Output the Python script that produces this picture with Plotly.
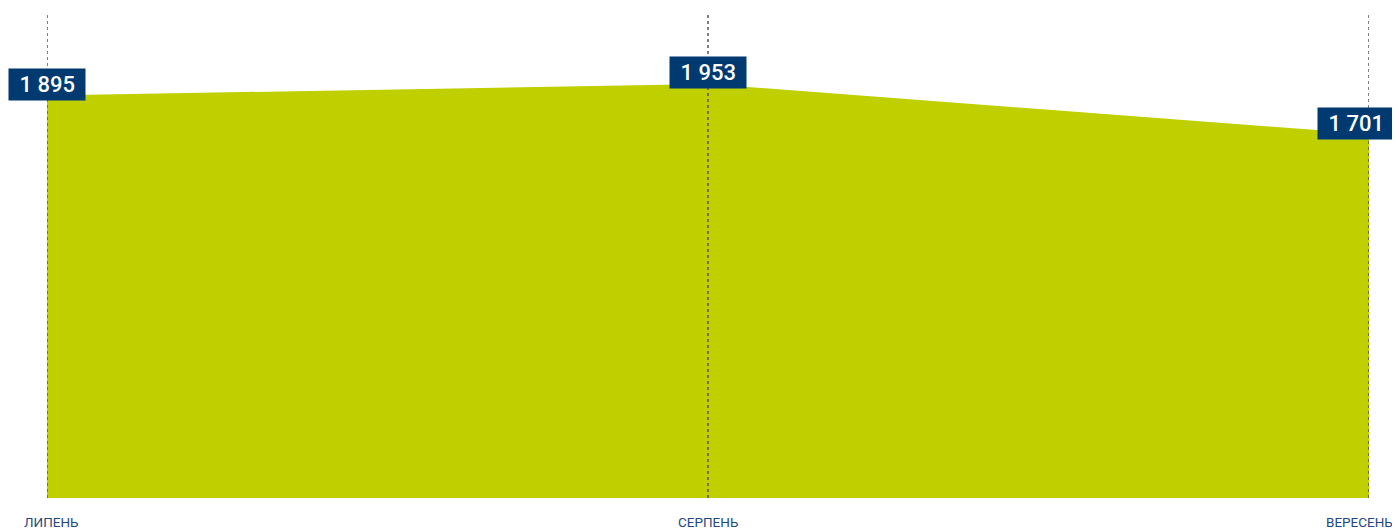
import plotly.graph_objects as go

# Data
months = ["ЛИПЕНЬ", "СЕРПЕНЬ", "ВЕРЕСЕНЬ"]
values = [1895, 1953, 1701]

Y_MIN = -130
Y_MAX = 2300
FILL = "#bfcf00"
NAVY = "#003a70"
LABEL_BLUE = "#1f4a80"


def fmt(v):
    # thousands separated by a space, e.g. "1 895"
    return f"{v:,}".replace(",", " ")


fig = go.Figure()

# baseline at the bottom of the axis so the area fills down to the frame
fig.add_trace(go.Scatter(
    x=months, y=[Y_MIN] * len(months),
    mode="lines", line=dict(width=0),
    hoverinfo="skip", showlegend=False,
))
fig.add_trace(go.Scatter(
    x=months, y=values,
    mode="lines", line=dict(width=0, color=FILL),
    fill="tonexty", fillcolor=FILL,
    hovertemplate="%{x}: %{y}<extra></extra>",
    showlegend=False,
))

# dotted vertical guides drawn over the fill
for m in months:
    fig.add_shape(
        type="line", xref="x", yref="paper",
        x0=m, x1=m, y0=0, y1=1,
        line=dict(color="#555555", width=1.5, dash="dot"),
        layer="above",
    )

# value labels (last one pulled in so it is not clipped by the page edge)
value_shifts = [0, 0, -13]
for m, v, dx in zip(months, values, value_shifts):
    fig.add_annotation(
        x=m, y=v, text=f"\u2004{fmt(v)}\u2004",
        showarrow=False, yshift=11, xshift=dx,
        bgcolor=NAVY, borderpad=3,
        font=dict(family="Roboto", size=22, color="white", weight=500),
    )

# month labels under the axis (nudged inward at the edges so they stay on the page)
shifts = [4, 0, -10]
for m, dx in zip(months, shifts):
    fig.add_annotation(
        x=m, y=0, xref="x", yref="paper",
        yanchor="top", yshift=-14, xshift=dx,
        text=m, showarrow=False,
        font=dict(family="Roboto", size=13.5, color=LABEL_BLUE),
    )

# the page body has an 8px margin, so the figure is sized to fit the window
fig.update_layout(
    width=1392, height=521,
    margin=dict(l=39, r=31, t=7, b=31),
    plot_bgcolor="white", paper_bgcolor="white",
    xaxis=dict(
        showgrid=False, zeroline=False, showline=False,
        range=[0, len(months) - 1],
        automargin=False,
        showticklabels=False,
    ),
    yaxis=dict(
        range=[Y_MIN, Y_MAX],
        automargin=False,
        showgrid=False, zeroline=False, showline=False,
        showticklabels=False,
    ),
)

fig.write_html("out.html")
